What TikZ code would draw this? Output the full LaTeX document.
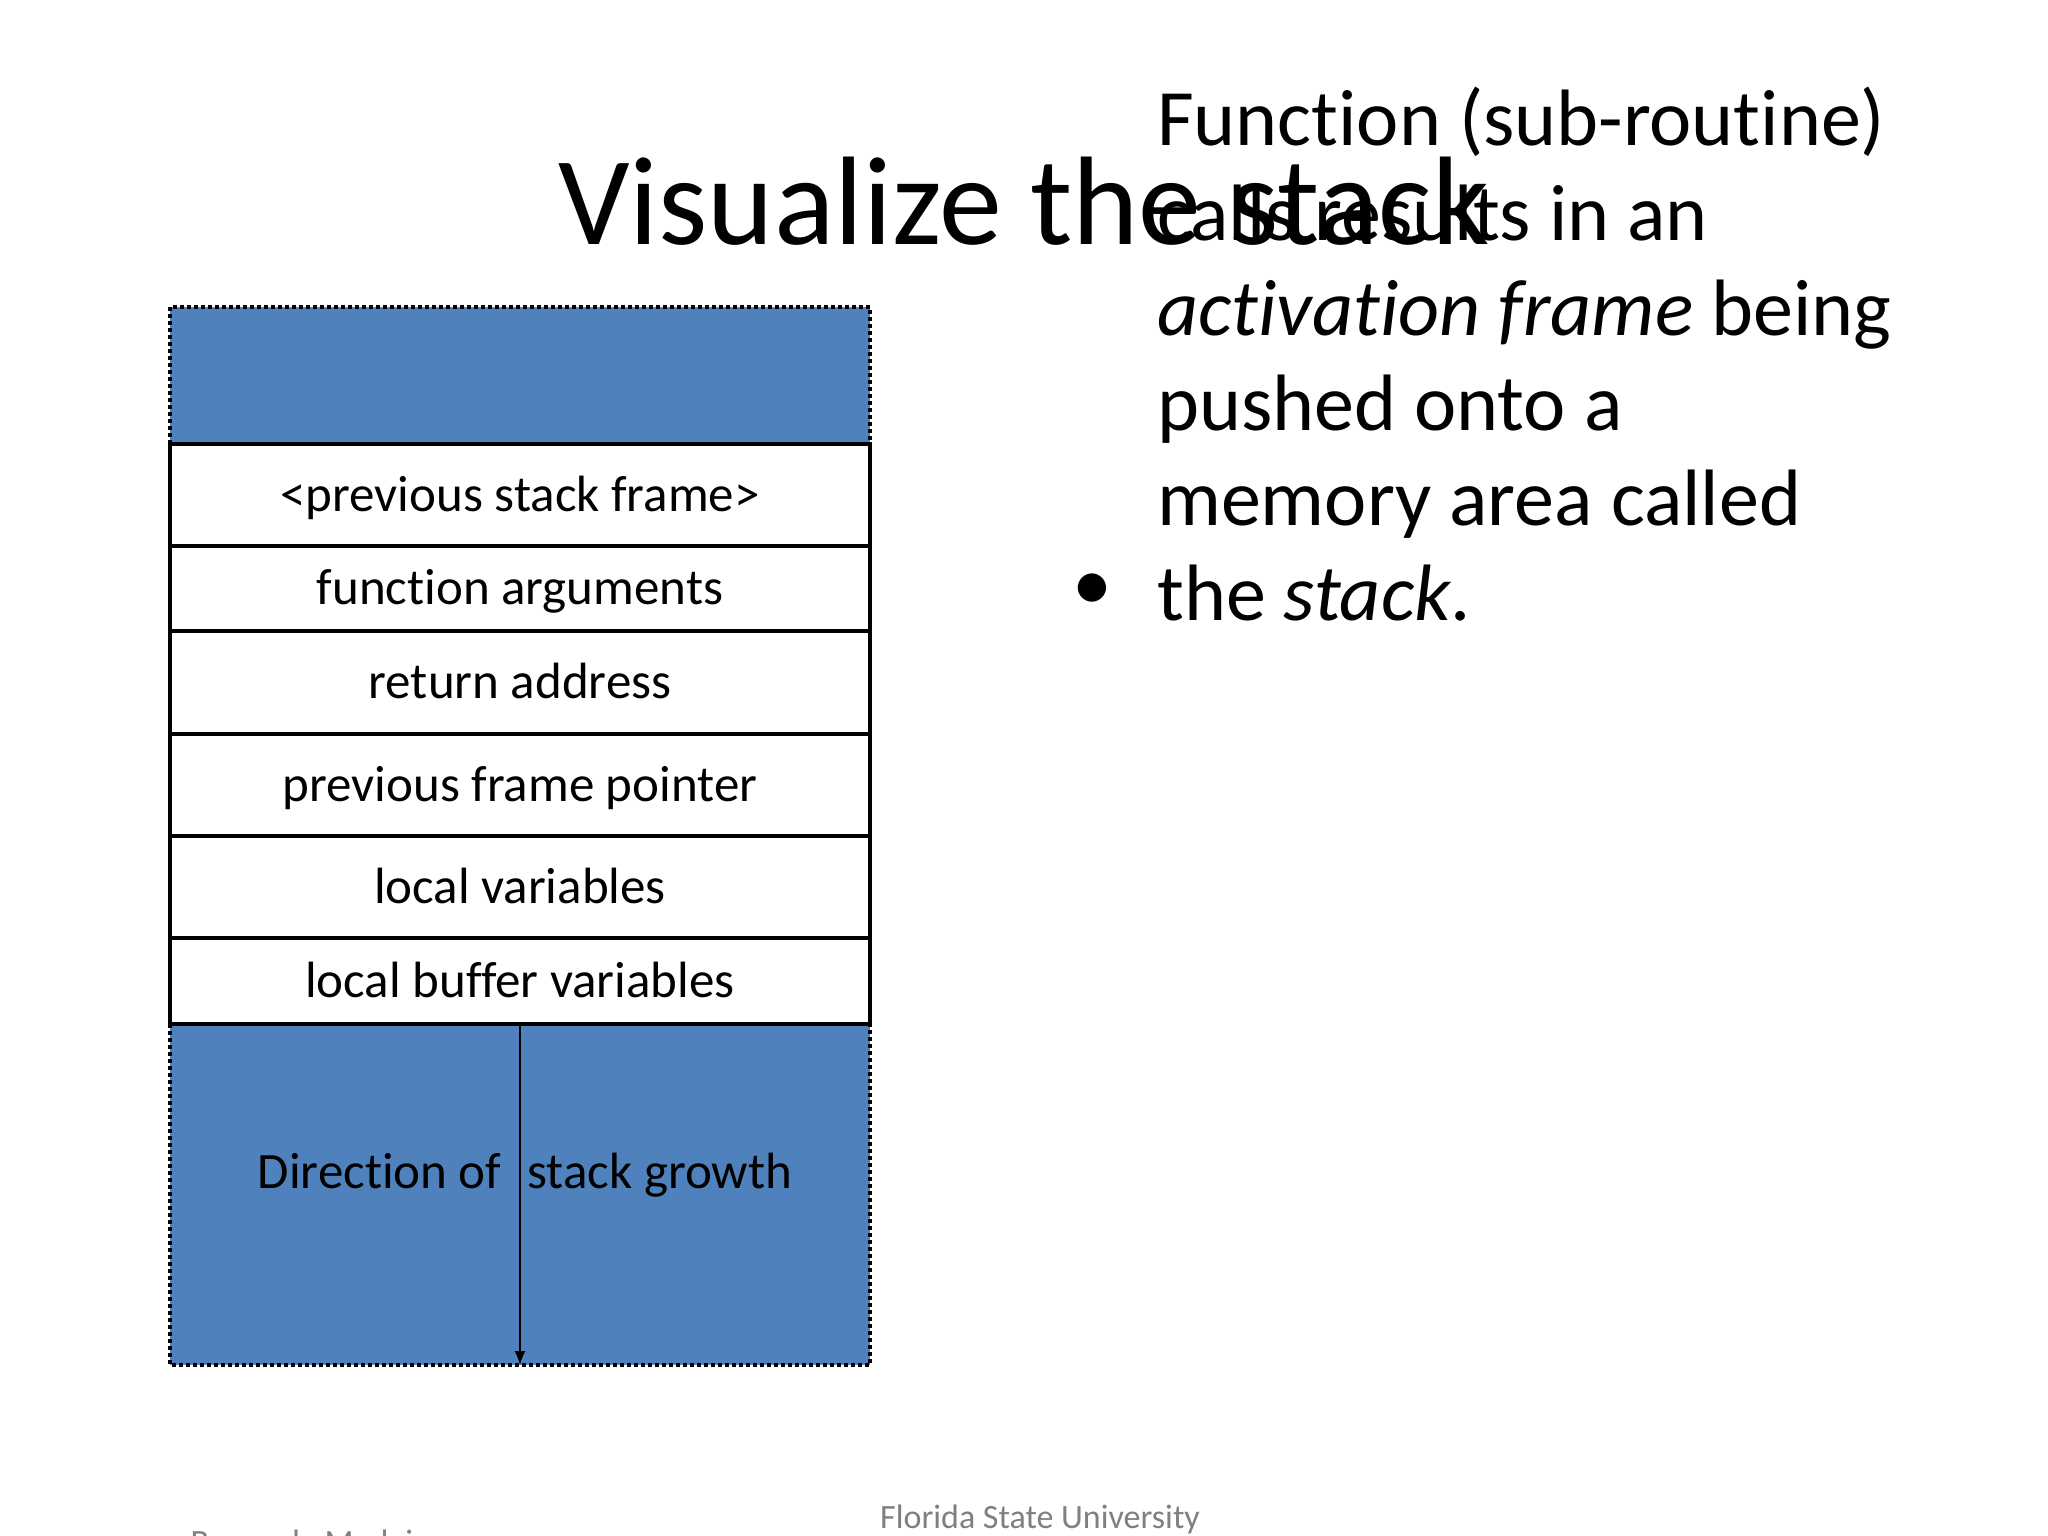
\documentclass[tikz,border=0pt]{standalone}
\usepackage{fontspec}
\usetikzlibrary{arrows.meta}
\setmainfont[Ligatures=NoCommon]{Carlito}
\begin{document}
\begin{tikzpicture}[x=1pt,y=-1pt,
  blue/.style={fill=stackblue,draw=black,line width=4pt,dash pattern=on 4pt off 3pt},
  row/.style={fill=white,draw=black,line width=3.5pt},
  rowtxt/.style={font=\fontsize{51}{60}\selectfont,anchor=base},
  ]
\definecolor{stackblue}{RGB}{79,129,189}
\clip (0,0) rectangle (2048,1536);
\fill[white] (0,0) rectangle (2048,1536);
\node[font=\fontsize{126}{150}\selectfont,anchor=base] (title) at (1024,244) {Visualize the stack};
\fill[stackblue] (170,307) rectangle (870,444);
\draw[blue,fill=none] (170,444) -- (170,307) -- (870,307) -- (870,444);
\fill[stackblue] (170,1024) rectangle (870,1365);
\draw[blue,fill=none] (170,1024) -- (170,1365) -- (870,1365) -- (870,1024);
\foreach \a/\b/\t [count=\i] in {444/546/{<previous stack frame>},546/631/{function arguments},631/734/{return address},734/836/{previous frame pointer},836/938/{local variables},938/1024/{local buffer variables}}{
  \draw[row] (170,\a) rectangle (870,\b);
  \node[rowtxt] (r\i) at (520,{(\a+\b)/2+16}) {\t};
}
\coordinate (astart) at (520,1026);
\coordinate (aend) at (520,1365);
\draw[line width=1.5pt,-{Latex[length=14pt,width=11pt]}] (astart) -- (aend);
\node[rowtxt,anchor=base east] (d1) at (505,1188) {Direction of};
\node[rowtxt,anchor=base west] (d2) at (524,1188) {stack growth};
\node[font=\fontsize{80}{95}\selectfont] (bul) at (1092,592) {•};
\node[font=\fontsize{80}{95}\selectfont,anchor=base west,align=left,inner sep=0pt] (txt) at (1157,620) {Function (sub-routine)\\calls results in an\\\textit{activation frame} being\\pushed onto a\\memory area called\\the \textit{stack}.};
\node[font=\fontsize{34}{38}\selectfont,text=gray] (fsu) at (1040,1519) {Florida State University};
\node[font=\fontsize{34}{38}\selectfont,text=gray,anchor=west] (bm) at (187,1542) {Bruno de Medeiros};
\end{tikzpicture}
\end{document}
